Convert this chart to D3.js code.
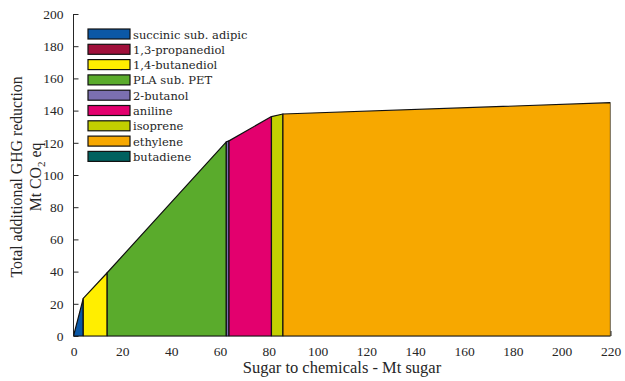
<!DOCTYPE html>
<html>
<head>
<meta charset="utf-8">
<script src="https://d3js.org/d3.v7.min.js"></script>
<style>
  body { margin: 0; background: #fff; }
  svg text { fill: #262626; }
</style>
</head>
<body>
<svg id="canvas"></svg>
<script>
// chemicals in merit order, sugar used and GHG reduction per chemical
const chemicals = ["succinic sub. adipic", "1,3-propanediol", "1,4-butanediol", "PLA sub. PET",
    "2-butanol", "aniline", "isoprene", "ethylene", "butadiene"];
const sugarUse = [4.0, 0, 9.8, 48.8, 1.1, 17.4, 4.7, 134.2, 0];       // Mt sugar
const ghgReduction = [23.4, 0, 15.9, 81.3, 0.6, 15.1, 1.6, 7.0, 0];   // Mt CO2 eq
const colors = ["#0b58a6", "#a0103a", "#ffee00", "#5aab2c", "#7b6fb0",
    "#e3006e", "#c3cf00", "#f7a800", "#00615f"];
const xTicks = [0, 20, 40, 60, 80, 100, 120, 140, 160, 180, 200, 220];
const yTicks = [0, 20, 40, 60, 80, 100, 120, 140, 160, 180, 200];

const serif = "Liberation Serif, DejaVu Serif, serif";
const width = 625, height = 381;
const svg = d3.select("#canvas").attr("width", width).attr("height", height);

const marginLeft = 73.5, marginRight = 14.5, marginTop = 14, marginBottom = 45;

const x = d3.scaleLinear().domain([0, 220]).range([marginLeft, width - marginRight]);
const y = d3.scaleLinear().domain([0, 200]).range([height - marginBottom, marginTop]);

// axes first, so the areas sit over the inner ticks
const xAxis = svg.append("g")
    .attr("transform", `translate(0,${y(0)})`)
    .call(d3.axisBottom(x).tickValues(xTicks).tickSize(-5).tickPadding(10));
const yAxis = svg.append("g")
    .attr("transform", `translate(${x(0)},0)`)
    .call(d3.axisLeft(y).tickValues(yTicks).tickSize(-5).tickPadding(10));

[xAxis, yAxis].forEach(a => {
    a.selectAll("path, line").attr("stroke", "#262626");
    a.selectAll("text").style("font-size", "13.5px")
        .style("font-family", serif).attr("fill", "#262626");
});
xAxis.select(".domain").attr("d", `M${x(0)},0H${x(220)}`);
yAxis.select(".domain").attr("d", `M0,${y(0)}V${y(200)}`);

// cumulative breakpoints
let cx = 0, cy = 0;
const segs = chemicals.map((name, i) => {
    const s = { name, x0: cx, y0: cy, x1: cx + sugarUse[i], y1: cy + ghgReduction[i], color: colors[i] };
    cx = s.x1; cy = s.y1;
    return s;
});

svg.append("clipPath").attr("id", "plot")
    .append("rect")
    .attr("x", x(0)).attr("y", y(200))
    .attr("width", x(220) - x(0)).attr("height", y(0) - y(200) + 0.6);

const area = d3.area()
    .x(d => x(d[0]))
    .y0(y(0))
    .y1(d => y(d[1]));

svg.append("g")
    .attr("clip-path", "url(#plot)")
    .selectAll("path")
    .data(segs.filter(s => s.x1 > s.x0))
    .join("path")
    .attr("d", s => area([[s.x0, s.y0], [s.x1, s.y1]]))
    .attr("fill", s => s.color)
    .attr("stroke", "#111")
    .attr("stroke-width", 1.2)
    .attr("stroke-linejoin", "round");

// axis labels
svg.append("text")
    .attr("x", (x(0) + x(220)) / 2).attr("y", 373)
    .attr("text-anchor", "middle")
    .style("font-family", serif).style("font-size", "16.5px")
    .text("Sugar to chemicals - Mt sugar");

const yl = svg.append("text")
    .attr("transform", `translate(22,${(y(0) + y(200)) / 2 + 2}) rotate(-90)`)
    .attr("text-anchor", "middle")
    .style("font-family", serif).style("font-size", "15.8px");
yl.append("tspan").attr("x", 0).attr("y", 0).text("Total additional GHG reduction");
const l2 = yl.append("tspan").attr("x", 0).attr("y", 19);
l2.append("tspan").text("Mt CO");
l2.append("tspan").style("font-size", "11px").attr("dy", 4).text("2");
l2.append("tspan").attr("dy", -4).text(" eq");

// legend
const legend = svg.append("g").attr("transform", "translate(88,29)");
const rows = legend.selectAll("g")
    .data(segs)
    .join("g")
    .attr("transform", (d, i) => `translate(0,${i * 15.3})`);
rows.append("rect")
    .attr("width", 42).attr("height", 10)
    .attr("fill", d => d.color)
    .attr("stroke", "#111").attr("stroke-width", 1.2);
rows.append("text")
    .attr("x", 45).attr("y", 9.5)
    .style("font-family", "DejaVu Serif, Liberation Serif, serif")
    .style("font-size", "11.5px")
    .text(d => d.name);
</script>
</body>
</html>
